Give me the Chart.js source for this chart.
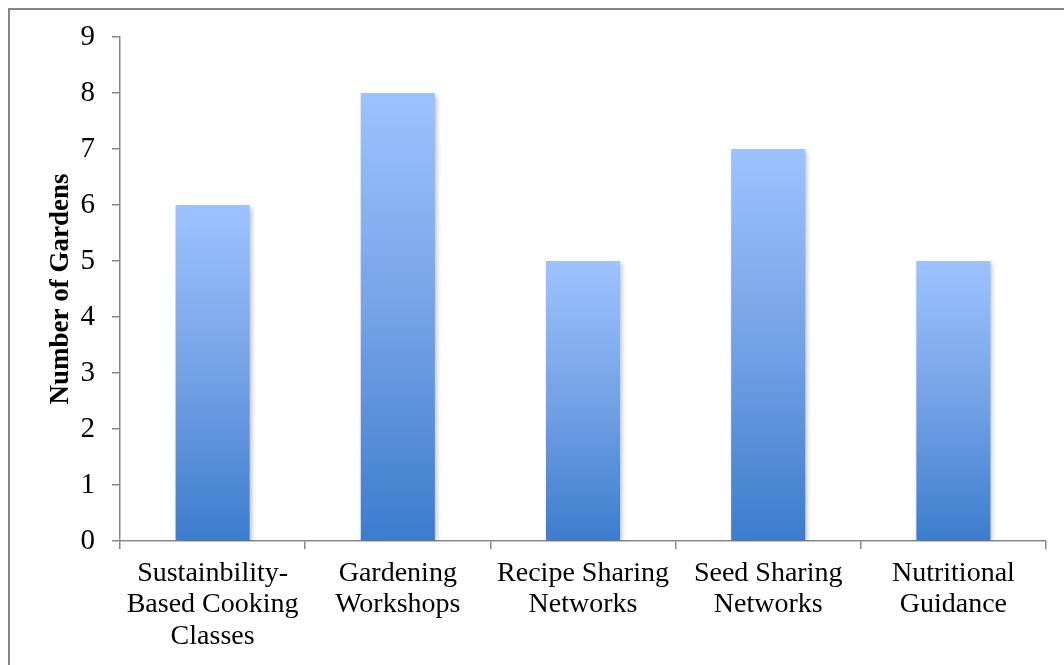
<!DOCTYPE html>
<html>
<head>
<meta charset="utf-8">
<script src="https://cdn.jsdelivr.net/npm/chart.js@4.4.0/dist/chart.umd.min.js"></script>
<style>
  html, body { margin: 0; padding: 0; background: #fff; overflow: hidden; }
  #frame {
    position: absolute; left: 8px; top: 8px; width: 1100px; height: 700px;
    border: 2px solid #868686; box-shadow: 1px 1px 2px rgba(0,0,0,0.15);
  }
  #wrap { position: absolute; left: 0; top: 0; width: 1064px; height: 665px; }
</style>
</head>
<body>
<div id="frame"></div>
<div id="wrap"><canvas id="chart"></canvas></div>
<script>
// categories and values
var programmes = [
  ["Sustainbility-", "Based Cooking", "Classes"],
  ["Gardening", "Workshops"],
  ["Recipe Sharing", "Networks"],
  ["Seed Sharing", "Networks"],
  ["Nutritional", "Guidance"]
];
var gardens = [6, 8, 5, 7, 5];
var yTicks = [0, 1, 2, 3, 4, 5, 6, 7, 8, 9];

var axisGray = "#878787";
var serif = "'Liberation Serif', 'Times New Roman', serif";

// vertical gradient per bar, light on top
function barGradient(context) {
  var chart = context.chart;
  if (!chart.chartArea || context.raw == null) return "#6a9de6";
  var y = chart.scales.y;
  var top = y.getPixelForValue(context.raw);
  var bottom = y.getPixelForValue(0);
  var g = chart.ctx.createLinearGradient(0, top, 0, bottom);
  g.addColorStop(0, "#9dc3ff");
  g.addColorStop(0.5, "#74a2e6");
  g.addColorStop(1, "#3c7ccd");
  return g;
}

// soft shadow under the bars
var barShadow = {
  id: "barShadow",
  beforeDatasetsDraw: function (chart) {
    var ctx = chart.ctx;
    ctx.save();
    ctx.shadowColor = "rgba(0,0,0,0.28)";
    ctx.shadowBlur = 5;
    ctx.shadowOffsetX = 2;
    ctx.shadowOffsetY = 2;
  },
  afterDatasetsDraw: function (chart) {
    chart.ctx.restore();
  }
};

new Chart("chart", {
  type: "bar",
  data: {
    labels: programmes,
    datasets: [{
      label: "Number of Gardens",
      data: gardens,
      backgroundColor: barGradient,
      borderWidth: 0,
      categoryPercentage: 1,
      barPercentage: 0.4
    }]
  },
  plugins: [barShadow],
  options: {
    responsive: true,
    maintainAspectRatio: false,
    animation: false,
    layout: { padding: { left: 0, top: 37, right: 18, bottom: 0 } },
    plugins: {
      legend: { display: false },
      tooltip: { enabled: false }
    },
    scales: {
      x: {
        offset: true,
        grid: {
          offset: true,
          drawOnChartArea: false,
          color: axisGray,
          lineWidth: 1.5,
          tickLength: 8
        },
        border: { color: axisGray, width: 1.5 },
        ticks: {
          color: "#000",
          font: { family: serif, size: 28, lineHeight: 1.12 },
          padding: 9,
          maxRotation: 0,
          autoSkip: false
        },
        afterFit: function (scale) { scale.height = 124; }
      },
      y: {
        min: 0,
        max: 9,
        afterBuildTicks: function (scale) {
          scale.ticks = yTicks.map(function (v) { return { value: v }; });
        },
        grid: {
          drawOnChartArea: false,
          color: axisGray,
          lineWidth: 1.5,
          tickLength: 8
        },
        border: { color: axisGray, width: 1.5 },
        ticks: {
          color: "#000",
          font: { family: serif, size: 29 },
          padding: 17
        },
        title: {
          display: true,
          text: "Number of Gardens",
          color: "#000",
          font: { family: serif, size: 27, weight: "bold" },
          padding: { top: 45, bottom: 0 }
        },
        afterFit: function (scale) { scale.width = 120; }
      }
    }
  }
});
</script>
</body>
</html>
